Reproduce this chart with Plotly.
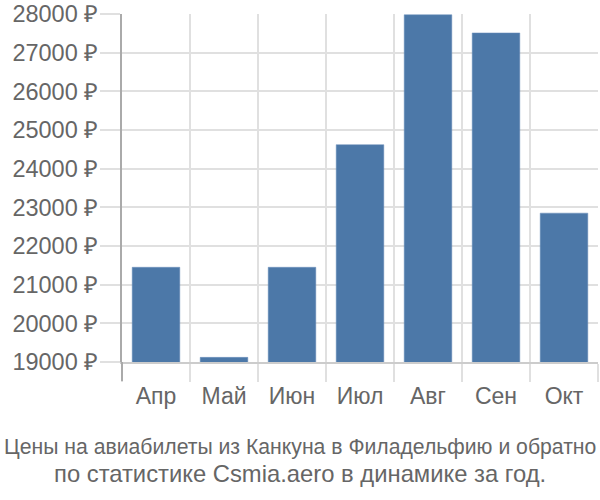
import plotly.graph_objects as go

months = ["Апр", "Май", "Июн", "Июл", "Авг", "Сен", "Окт"]
prices = [21450, 19120, 21450, 24620, 27980, 27510, 22850]
y_ticks = [19000, 20000, 21000, 22000, 23000, 24000, 25000, 26000, 27000, 28000]
y_labels = [f"{v} ₽" for v in y_ticks]
title_lines = ["Цены на авиабилеты из Канкуна в Филадельфию и обратно",
               "по статистике Csmia.aero в динамике за год."]

grid = "#e0e0e0"
txt = "#666666"

fig = go.Figure(go.Bar(
    x=months, y=prices, base=0,
    marker=dict(color="#4c78a8", line=dict(color="#6a8fbb", width=0.5)),
    width=0.7,
))

fig.update_layout(
    width=600, height=500,
    margin=dict(l=122, r=2, t=14, b=138),
    plot_bgcolor="white", paper_bgcolor="white",
    font=dict(family="Liberation Sans, Arial, sans-serif", color=txt, size=24),
    showlegend=False,
    bargap=0.3,
)
fig.update_xaxes(
    type="category", tickson="boundaries", showgrid=True, gridcolor=grid, gridwidth=2,
    ticks="outside", ticklen=18, tickcolor=grid, tickwidth=2,
    showline=True, linecolor="#cccccc", linewidth=2,
    tickfont=dict(size=23, color=txt), ticklabelstandoff=12,
)
fig.update_yaxes(
    range=[19000, 28000], tickvals=y_ticks, ticktext=y_labels,
    showgrid=True, gridcolor=grid, gridwidth=2,
    ticks="outside", ticklen=20, tickcolor=grid, tickwidth=2,
    showline=True, linecolor="#aaaaaa", linewidth=2,
    zeroline=False, tickfont=dict(size=23.5, color=txt),
    ticklabelstandoff=-3,
)
# darker continuation of the y axis line below the plot
fig.add_shape(type="line", xref="paper", yref="paper", x0=0, x1=0,
              ysizemode="pixel", yanchor=0, y0=0, y1=-19,
              line=dict(color="#aaaaaa", width=2))

page_center = (300 - 122) / 476
title_sizes = [21.2, 23.8]
for i, line in enumerate(title_lines):
    fig.add_annotation(
        text=line, xref="paper", yref="paper", x=page_center, y=0, xanchor="center",
        yanchor="middle", yshift=-85 - 26 * i, showarrow=False,
        font=dict(size=title_sizes[i], color=txt),
    )

fig.write_html("out.html")
